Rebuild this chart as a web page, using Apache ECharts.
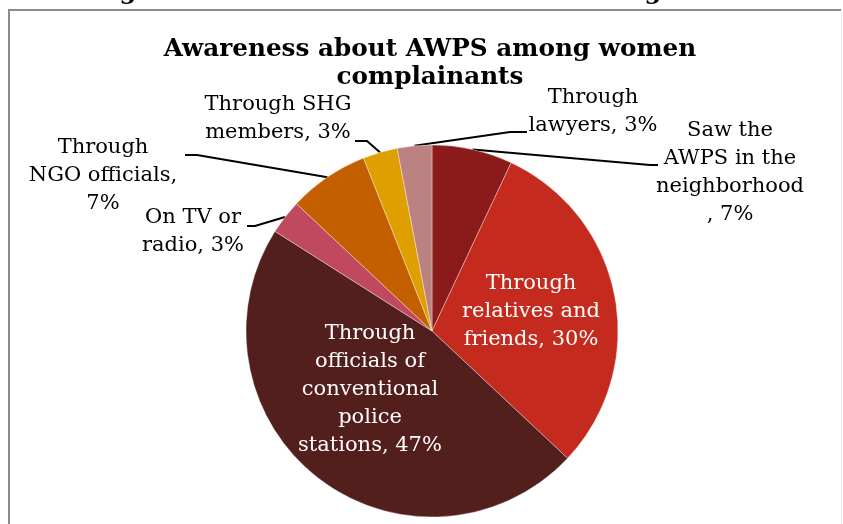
<!DOCTYPE html>
<html>
<head>
<meta charset="utf-8">
<script src="https://cdn.jsdelivr.net/npm/echarts@6/dist/echarts.min.js"></script>
<style>
  html, body { margin: 0; padding: 0; background: #fff; }
  #chart { width: 843px; height: 524px; }
</style>
</head>
<body>
<div id="chart"></div>
<script>
// Sources through which women complainants learned about the AWPS (%)
const categories = [
  'Saw the\nAWPS in the\nneighborhood',
  'Through\nrelatives and\nfriends',
  'Through\nofficials of\nconventional\npolice\nstations',
  'On TV or\nradio',
  'Through\nNGO officials',
  'Through SHG\nmembers',
  'Through\nlawyers'
];
const shares = [7, 30, 47, 3, 7, 3, 3];
// text placed between a category name and its value
const separators = ['\n, ', ', ', ', ', ', ', ',\n', ', ', ', '];

const sliceColors = ['#8B1A1B', '#C42A1D', '#521F1D', '#C0495F', '#C45F00', '#E09F00', '#BC8282'];
const insideLabel = [false, true, true, false, false, false, false];

// label centre and the two leader-line points next to the label (elbow, end)
const labelPlacement = [
  { x: 730, y: 173, elbow: [650, 165], end: [658, 165] },
  { x: 531, y: 312 },
  { x: 370, y: 390 },
  { x: 193, y: 232, elbow: [255, 226], end: [247, 226] },
  { x: 103, y: 176, elbow: [197, 155], end: [185, 155] },
  { x: 278, y: 119, elbow: [367, 141], end: [355, 141] },
  { x: 593, y: 112, elbow: [510, 132], end: [527, 132] }
];

const chart = echarts.init(document.getElementById('chart'), null, { renderer: 'canvas' });

const labelFont = 'DejaVu Serif';

const seriesData = categories.map((name, i) => ({
  name: name,
  value: shares[i],
  itemStyle: { color: sliceColors[i] },
  label: insideLabel[i]
    ? { position: 'inside', color: '#fff' }
    : { position: 'outside', color: '#000' },
  labelLine: { show: !insideLabel[i] }
}));

chart.setOption({
  animation: false,
  backgroundColor: '#fff',
  title: {
    text: 'Awareness about AWPS among women\ncomplainants',
    left: 425,
    top: 31,
    textAlign: 'center',
    textStyle: {
      fontFamily: labelFont,
      fontWeight: 'bold',
      fontSize: 24.7,
      lineHeight: 28,
      color: '#000'
    }
  },
  graphic: [
    // frame of the chart area
    {
      type: 'polyline',
      shape: { points: [[9, 600], [9, 10], [841, 10]] },
      style: { stroke: '#8c8c8c', lineWidth: 2, fill: null },
      silent: true
    },
    {
      type: 'line',
      shape: { x1: 841.5, y1: 10, x2: 841.5, y2: 524 },
      style: { stroke: '#ececec', lineWidth: 1 },
      silent: true
    },
    // descenders of the heading above the frame
    {
      type: 'text',
      x: 128, y: 5,
      style: { text: 'g', font: 'bold 24px "DejaVu Serif"', fill: '#000', align: 'center', verticalAlign: 'bottom' },
      silent: true
    },
    {
      type: 'text',
      x: 653, y: 5,
      style: { text: 'g', font: 'bold 24px "DejaVu Serif"', fill: '#000', align: 'center', verticalAlign: 'bottom' },
      silent: true
    }
  ],
  series: [{
    type: 'pie',
    center: [432, 331],
    radius: 186,
    startAngle: 90,
    clockwise: true,
    avoidLabelOverlap: false,
    itemStyle: { borderColor: 'rgba(255,255,255,0.6)', borderWidth: 0.6 },
    label: {
      show: true,
      fontFamily: labelFont,
      fontSize: 21,
      lineHeight: 28,
      align: 'center',
      formatter: p => p.name + separators[p.dataIndex] + p.value + '%'
    },
    labelLine: {
      show: true,
      length: 10,
      length2: 10,
      lineStyle: { color: '#000', width: 2 }
    },
    emphasis: { disabled: true },
    labelLayout: function (params) {
      const place = labelPlacement[params.dataIndex];
      const out = { x: place.x, y: place.y, align: 'center', verticalAlign: 'middle' };
      if (place.elbow && params.labelLinePoints && params.labelLinePoints.length) {
        out.labelLinePoints = [params.labelLinePoints[0], place.elbow, place.end];
      }
      return out;
    },
    data: seriesData
  }]
});
</script>
</body>
</html>
